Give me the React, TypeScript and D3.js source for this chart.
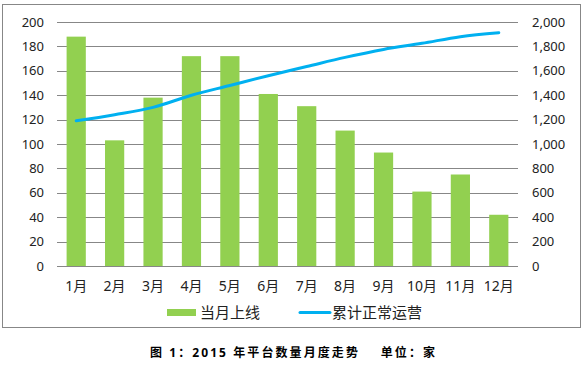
import React, { useEffect, useRef } from 'react'
import * as d3 from 'd3'

const months = ['1月', '2月', '3月', '4月', '5月', '6月', '7月', '8月', '9月', '10月', '11月', '12月']
const monthlyOnline = [188, 103, 138, 172, 172, 141, 131, 111, 93, 61, 75, 42]
const cumulativeRunning = [1190, 1240, 1300, 1400, 1480, 1560, 1635, 1710, 1775, 1825, 1880, 1912]
const leftTicks = [0, 20, 40, 60, 80, 100, 120, 140, 160, 180, 200]
const rightTicks = [0, 200, 400, 600, 800, 1000, 1200, 1400, 1600, 1800, 2000]
const seriesNames = ['当月上线', '累计正常运营']
const caption = '图 1：2015 年平台数量月度走势    单位：家'

const W = 584
const H = 367
const margin = { top: 22, right: 66, bottom: 101, left: 57 }
const FONT = '"Noto Sans", "Noto Sans CJK SC", sans-serif'
const GREEN = '#92D050'
const BLUE = '#00B0F0'
const GRID = '#878787'

function App() {
    const ref = useRef<SVGSVGElement>(null)

    useEffect(() => {
        const svg = d3.select(ref.current)
        svg.selectAll('*').remove()

        const innerWidth = W - margin.left - margin.right
        const innerHeight = H - margin.top - margin.bottom

        // outer frame
        svg.append('rect')
            .attr('x', 2.5).attr('y', 4.5)
            .attr('width', 578).attr('height', 323)
            .attr('fill', 'none').attr('stroke', GRID).attr('stroke-width', 1)

        const g = svg.append('g').attr('transform', `translate(${margin.left},${margin.top})`)

        const x = d3.scaleBand<string>().domain(months).range([0, innerWidth]).paddingInner(0.5).paddingOuter(0.25)
        const yL = d3.scaleLinear().domain([0, 200]).range([innerHeight, 0])
        const yR = d3.scaleLinear().domain([0, 2000]).range([innerHeight, 0])

        // grid lines
        g.selectAll('.grid')
            .data(leftTicks)
            .join('line')
            .attr('class', 'grid')
            .attr('x1', 0).attr('x2', innerWidth)
            .attr('y1', d => Math.round(yL(d)) + 0.5)
            .attr('y2', d => Math.round(yL(d)) + 0.5)
            .attr('stroke', GRID).attr('stroke-width', 1)

        // left tick labels
        g.selectAll('.yl')
            .data(leftTicks)
            .join('text')
            .attr('class', 'yl')
            .attr('x', -13)
            .attr('y', d => yL(d))
            .attr('dy', '0.35em')
            .attr('text-anchor', 'end')
            .attr('font-family', FONT).attr('font-size', 13)
            .attr('fill', '#222')
            .text(d => d)

        // right tick labels
        g.selectAll('.yr')
            .data(rightTicks)
            .join('text')
            .attr('class', 'yr')
            .attr('x', innerWidth + 14)
            .attr('y', d => yR(d))
            .attr('dy', '0.35em')
            .attr('text-anchor', 'start')
            .attr('font-family', FONT).attr('font-size', 13)
            .attr('fill', '#222')
            .text(d => d3.format(',')(d))

        // bars
        g.selectAll('.bar')
            .data(monthlyOnline)
            .join('rect')
            .attr('class', 'bar')
            .attr('x', (d, i) => x(months[i])!)
            .attr('width', x.bandwidth())
            .attr('y', d => yL(d))
            .attr('height', d => innerHeight - yL(d))
            .attr('fill', GREEN)

        // x labels
        g.selectAll('.xl')
            .data(months)
            .join('text')
            .attr('class', 'xl')
            .attr('x', d => x(d)! + x.bandwidth() / 2)
            .attr('y', innerHeight + 25)
            .attr('text-anchor', 'middle')
            .attr('font-family', FONT).attr('font-size', 14)
            .attr('fill', '#222')
            .text(d => d)

        // cumulative line
        const line = d3.line<number>()
            .x((d, i) => x(months[i])! + x.bandwidth() / 2)
            .y(d => yR(d))
            .curve(d3.curveMonotoneX)

        g.append('path')
            .datum(cumulativeRunning)
            .attr('d', line)
            .attr('fill', 'none')
            .attr('stroke', BLUE)
            .attr('stroke-width', 3)
            .attr('stroke-linecap', 'round')

        // legend
        const lg = svg.append('g')
        lg.append('rect').attr('x', 167).attr('y', 309).attr('width', 29).attr('height', 7).attr('fill', GREEN)
        lg.append('text').attr('x', 200).attr('y', 318)
            .attr('font-family', FONT).attr('font-size', 15).attr('fill', '#222')
            .text(seriesNames[0])
        lg.append('line').attr('x1', 300).attr('x2', 330).attr('y1', 312.5).attr('y2', 312.5)
            .attr('stroke', BLUE).attr('stroke-width', 3).attr('stroke-linecap', 'round')
        lg.append('text').attr('x', 332).attr('y', 318)
            .attr('font-family', FONT).attr('font-size', 15).attr('fill', '#222')
            .text(seriesNames[1])

        // caption
        svg.append('text')
            .attr('x', 150).attr('y', 357)
            .attr('textLength', 285).attr('lengthAdjust', 'spacing')
            .attr('font-family', FONT).attr('font-size', 12).attr('font-weight', 'bold')
            .attr('fill', '#000')
            .style('white-space', 'pre')
            .text(caption)
    }, [])

    return (
        <div style={{ position: 'absolute', left: 0, top: 0, background: '#fff' }}>
            <svg ref={ref} width={W} height={H} />
        </div>
    )
}

export default App
